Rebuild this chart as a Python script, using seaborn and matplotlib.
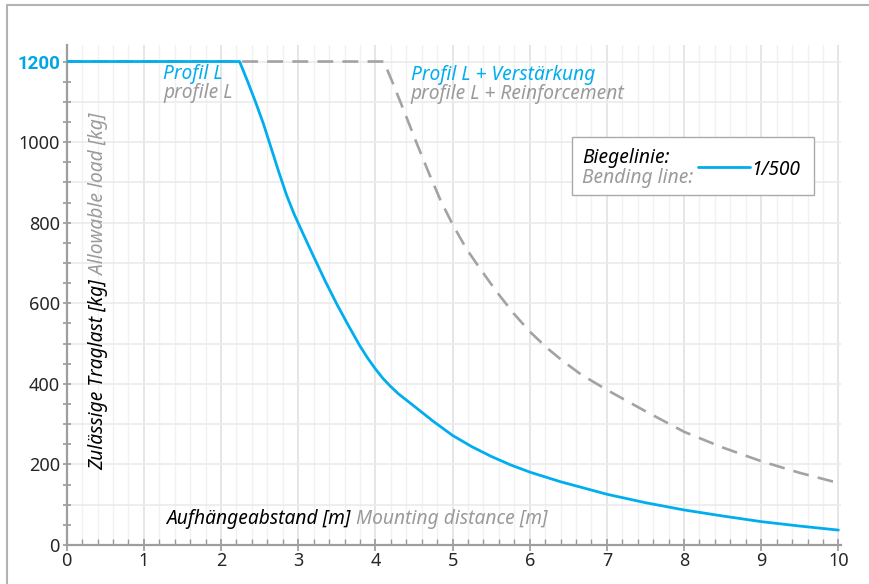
import matplotlib.pyplot as plt
import matplotlib.ticker as mticker
from matplotlib.lines import Line2D
from matplotlib.patches import Rectangle
import pandas as pd
import seaborn as sns

# values
profile_x = [0, 2.24, 2.35, 2.45, 2.55, 2.65, 2.75, 2.85, 2.95, 3.05, 3.2, 3.35, 3.5, 3.65,
             3.8, 3.9, 4.0, 4.1, 4.2, 4.3, 4.4, 4.5, 4.75, 5.0, 5.25, 5.5, 5.75, 6.0, 6.4,
             7.0, 7.5, 8.0, 8.5, 9.0, 9.5, 10.0]
profile_y = [1200, 1200, 1148, 1098, 1045, 985, 925, 868, 820, 778, 716, 655, 598, 545,
             494, 464, 437, 413, 393, 375, 360, 345, 307, 272, 244, 220, 199, 181, 157,
             126, 105, 87, 72, 58, 47, 37]

reinf_x = [0, 4.11, 4.24, 4.39, 4.54, 4.7, 4.85, 5.0, 5.18, 5.36, 5.57, 5.79, 6.01, 6.23,
           6.44, 6.66, 7.0, 7.5, 8.0, 8.5, 9.0, 9.5, 10.0]
reinf_y = [1200, 1200, 1140, 1068, 995, 920, 853, 796, 735, 685, 629, 575, 528, 488,
           455, 424, 385, 332, 281, 242, 208, 179, 154]

x_ticks = list(range(0, 11))
y_ticks = list(range(0, 1201, 100))
max_load = 1200
# plain labels every 200; the max load gets its own highlighted label
y_labels = [str(v) if v % 200 == 0 and v != max_load else '' for v in y_ticks]

BLUE = '#00aeef'
GRAY = '#a3a3a3'
TXT_GRAY = '#9a9a9a'

sns.set_theme(style='white')
plt.rcParams['font.family'] = ['Noto Sans', 'DejaVu Sans']

df_profile = pd.DataFrame({'x': profile_x, 'y': profile_y})
df_reinf = pd.DataFrame({'x': reinf_x, 'y': reinf_y})

fig = plt.figure(figsize=(8.69, 5.84), dpi=100)
ax = fig.add_axes([66.7 / 869, 39 / 584, 774 / 869, 500 / 584])

sns.lineplot(data=df_reinf, x='x', y='y', ax=ax, color=GRAY, linewidth=1.9,
             linestyle=(0, (6, 3.5)), zorder=3)
sns.lineplot(data=df_profile, x='x', y='y', ax=ax, color=BLUE, linewidth=2.0, zorder=4)

ax.set_xlim(0, 10.03)
ax.set_ylim(0, 1241)
ax.set_xlabel('')
ax.set_ylabel('')

# ticks and grid
ax.set_xticks(x_ticks)
ax.xaxis.set_minor_locator(mticker.MultipleLocator(0.2))
ax.set_yticks(y_ticks, labels=y_labels)
ax.yaxis.set_minor_locator(mticker.MultipleLocator(50))

ax.tick_params(axis='x', which='major', direction='inout', length=8, width=1.2,
               color='#999999', labelsize=13, pad=1, bottom=True)
ax.tick_params(axis='x', which='minor', direction='in', length=4, width=1.0,
               color='#999999', bottom=True)
ax.tick_params(axis='y', which='both', direction='inout', length=6, width=1.2,
               color='#999999', labelsize=13, pad=2, left=True)

ax.grid(True, axis='x', which='major', color='#e2e2e2', linewidth=1.2)
ax.grid(True, axis='x', which='minor', color='#f1f1f1', linewidth=1.0)
ax.grid(True, axis='y', which='major', color='#ebebeb', linewidth=1.2)
ax.set_axisbelow(True)

for side in ['top', 'right']:
    ax.spines[side].set_visible(False)
for side in ['left', 'bottom']:
    ax.spines[side].set_color('#9e9e9e')
    ax.spines[side].set_linewidth(1.6)

ax.text(-0.008, max_load, str(max_load), transform=ax.get_yaxis_transform(),
        ha='right', va='center_baseline', fontsize=13.5, fontweight='bold',
        family=['Roboto', 'DejaVu Sans'], color='#00a6e6')

fs = 13.8

# axis titles inside the plot, two colours
t1 = ax.text(1.29, 40, 'Aufhängeabstand [m]', style='italic', fontsize=fs,
             color='black', va='bottom', ha='left')
ax.annotate(' Mounting distance [m]', xy=(1, 0), xycoords=t1, style='italic',
            fontsize=fs, color=TXT_GRAY, va='bottom', ha='left')

t2 = ax.text(0.405, 186, 'Zulässige Traglast [kg]', style='italic', fontsize=fs,
             color='black', rotation=90, va='bottom', ha='center')
ax.annotate(' Allowable load [kg]', xy=(0.5, 1), xycoords=t2, style='italic',
            fontsize=fs, color=TXT_GRAY, rotation=90, va='bottom', ha='center')

# curve labels
ax.text(1.25, 1156, 'Profil L', style='italic', fontsize=fs, color=BLUE, va='baseline')
ax.text(1.25, 1110, 'profile L', style='italic', fontsize=fs, color=TXT_GRAY, va='baseline')
ax.text(4.46, 1154, 'Profil L + Verstärkung', style='italic', fontsize=fs, color=BLUE, va='baseline')
ax.text(4.46, 1106, 'profile L + Reinforcement', style='italic', fontsize=fs, color=TXT_GRAY,
        va='baseline')

# legend box
ax.add_patch(Rectangle((6.546, 869), 3.144, 144, facecolor='white', edgecolor='#aaaaaa',
                       linewidth=1.0, zorder=5))
ax.text(6.68, 948, 'Biegelinie:', style='italic', fontsize=fs, color='black', va='baseline', zorder=6)
ax.text(6.68, 899, 'Bending line:', style='italic', fontsize=fs, color=TXT_GRAY, va='baseline', zorder=6)
ax.add_line(Line2D([8.18, 8.85], [938, 938], color=BLUE, linewidth=2.0, zorder=6))
ax.text(8.87, 918, '1/500', style='italic', fontsize=fs, color='black', va='baseline', zorder=6)

# outer frame of the figure (top and left edges)
fig.add_artist(Line2D([7 / 869, 1], [1 - 5 / 584, 1 - 5 / 584], transform=fig.transFigure,
                      color='#b3b3b3', linewidth=1.5))
fig.add_artist(Line2D([7 / 869, 7 / 869], [0, 1 - 5 / 584], transform=fig.transFigure,
                      color='#b3b3b3', linewidth=1.5))

fig.savefig('out.png', dpi=100)
